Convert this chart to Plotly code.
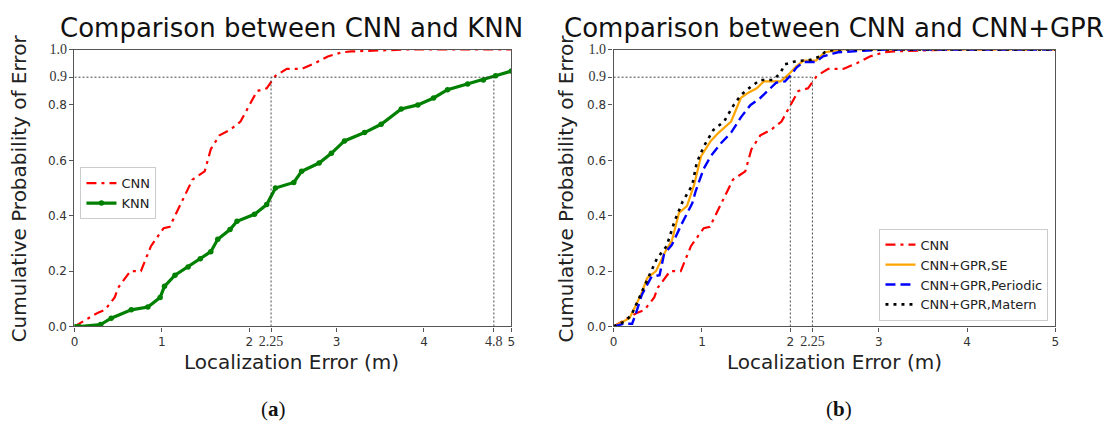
import plotly.graph_objects as go

# ---------------- data ----------------
cnn_x = [0, 0.05, 0.16, 0.27, 0.35, 0.46, 0.5, 0.64, 0.76, 0.875, 1.02, 1.09, 1.18, 1.33,
         1.35, 1.49, 1.56, 1.66, 1.78, 1.9, 2.0, 2.09, 2.2, 2.3, 2.43, 2.6, 2.75, 2.9, 3.06,
         3.17, 3.8, 5.0]
cnn_y = [0, 0.01, 0.03, 0.05, 0.06, 0.105, 0.14, 0.2, 0.2, 0.29, 0.355, 0.36, 0.42, 0.52,
         0.53, 0.56, 0.64, 0.69, 0.71, 0.74, 0.80, 0.85, 0.86, 0.905, 0.93, 0.93, 0.95, 0.975, 0.99,
         0.993, 1.0, 1.0]

knn_x = [0, 0.05, 0.3, 0.42, 0.65, 0.84, 0.98, 1.03, 1.15, 1.3, 1.44, 1.56, 1.64, 1.78, 1.86,
         2.06, 2.2, 2.3, 2.51, 2.6, 2.8, 2.94, 3.09, 3.32, 3.51, 3.74, 3.93, 4.11, 4.27, 4.5,
         4.68, 4.82, 5.0]
knn_y = [0, 0, 0.007, 0.03, 0.06, 0.07, 0.105, 0.145, 0.185, 0.215, 0.245, 0.27, 0.315, 0.35, 0.38,
         0.405, 0.44, 0.5, 0.52, 0.56, 0.59, 0.625, 0.67, 0.70, 0.73, 0.785, 0.80, 0.825, 0.855, 0.875,
         0.89, 0.905, 0.922]

se_x = [0, 0.18, 0.31, 0.38, 0.48, 0.6, 0.66, 0.74, 0.83, 0.91, 0.99, 1.1, 1.19, 1.33, 1.44,
        1.53, 1.62, 1.7, 1.89, 1.98, 2.07, 2.15, 2.29, 2.39, 2.6, 5.0]
se_y = [0, 0.03, 0.115, 0.175, 0.2, 0.28, 0.31, 0.41, 0.435, 0.51, 0.615, 0.67, 0.70, 0.74, 0.825,
        0.845, 0.86, 0.885, 0.885, 0.91, 0.94, 0.96, 0.96, 0.99, 1.0, 1.0]

per_x = [0, 0.12, 0.21, 0.25, 0.32, 0.43, 0.52, 0.57, 0.66, 0.77, 0.89, 0.93, 1.02, 1.1, 1.21,
         1.33, 1.44, 1.55, 1.66, 1.78, 1.84, 1.94, 2.0, 2.07, 2.15, 2.29, 2.37, 2.48, 2.54, 3.07, 5.0]
per_y = [0, 0.01, 0.01, 0.045, 0.115, 0.18, 0.185, 0.26, 0.295, 0.37, 0.445, 0.49, 0.57, 0.615, 0.66,
         0.70, 0.755, 0.80, 0.825, 0.86, 0.88, 0.885, 0.905, 0.935, 0.955, 0.955, 0.975, 0.985, 0.99, 1.0, 1.0]

mat_x = [0, 0.12, 0.2, 0.29, 0.35, 0.44, 0.49, 0.6, 0.69, 0.78, 0.89, 0.94, 1.02, 1.13, 1.25,
         1.36, 1.44, 1.55, 1.66, 1.81, 1.89, 1.94, 2.07, 2.22, 2.34, 2.39, 2.5, 5.0]
mat_y = [0, 0.017, 0.04, 0.105, 0.15, 0.21, 0.245, 0.29, 0.38, 0.45, 0.51, 0.59, 0.65, 0.71, 0.74,
         0.80, 0.835, 0.865, 0.89, 0.89, 0.917, 0.947, 0.958, 0.962, 0.975, 0.99, 1.0, 1.0]

threshold = 0.9
left_marks = [2.25, 4.8]
right_marks = [2.0, 2.25]

y_ticks = [0, 0.2, 0.4, 0.6, 0.8, 0.9, 1.0]
y_labels = ["0.0", "0.2", "0.4", "0.6", "0.8", "0.9", "1.0"]
x_ticks_left = [0, 1, 2, 2.25, 3, 4, 4.8, 5]
x_labels_left = ["0", "1", "2", "2.25", "3", "4", "4.8", "5"]
x_ticks_right = [0, 1, 2, 2.25, 3, 4, 5]
x_labels_right = ["0", "1", "2", "2.25", "3", "4", "5"]

SERIF = {"0.9", "1.0", "2.25", "4.8"}


def styl(labels):
    return ['<span style="font-family:Liberation Serif;font-size:14px">%s</span>' % t
            if t in SERIF else t for t in labels]


W, H = 1116, 430
fig = go.Figure()

# ---------------- left panel ----------------
fig.add_trace(go.Scatter(x=cnn_x, y=cnn_y, mode="lines", name="CNN",
                         line=dict(color="red", width=2.2, dash="10px,5px,3px,5px"),
                         xaxis="x", yaxis="y", legend="legend"))
fig.add_trace(go.Scatter(x=knn_x, y=knn_y, mode="lines+markers", name="KNN",
                         line=dict(color="green", width=3.2),
                         marker=dict(color="green", size=5.5),
                         xaxis="x", yaxis="y", legend="legend"))
ref_style = dict(color="#333", width=0.9, dash="2px,2px")
fig.add_trace(go.Scatter(x=[0, left_marks[-1]], y=[threshold, threshold], mode="lines",
                         line=ref_style, showlegend=False, xaxis="x", yaxis="y", hoverinfo="skip"))
for m in left_marks:
    fig.add_trace(go.Scatter(x=[m, m], y=[0, threshold], mode="lines", line=ref_style,
                             showlegend=False, xaxis="x", yaxis="y", hoverinfo="skip"))

# ---------------- right panel ----------------
fig.add_trace(go.Scatter(x=cnn_x, y=cnn_y, mode="lines", name="CNN",
                         line=dict(color="red", width=2.2, dash="10px,5px,3px,5px"),
                         xaxis="x2", yaxis="y2", legend="legend2"))
fig.add_trace(go.Scatter(x=se_x, y=se_y, mode="lines", name="CNN+GPR,SE",
                         line=dict(color="orange", width=2.2),
                         xaxis="x2", yaxis="y2", legend="legend2"))
fig.add_trace(go.Scatter(x=per_x, y=per_y, mode="lines", name="CNN+GPR,Periodic",
                         line=dict(color="blue", width=2.4, dash="10px,5px"),
                         xaxis="x2", yaxis="y2", legend="legend2"))
fig.add_trace(go.Scatter(x=mat_x, y=mat_y, mode="lines", name="CNN+GPR,Matern",
                         line=dict(color="black", width=2.6, dash="3px,5px"),
                         xaxis="x2", yaxis="y2", legend="legend2"))
fig.add_trace(go.Scatter(x=[0, right_marks[-1]], y=[threshold, threshold], mode="lines",
                         line=ref_style, showlegend=False, xaxis="x2", yaxis="y2", hoverinfo="skip"))
for m in right_marks:
    fig.add_trace(go.Scatter(x=[m, m], y=[0, threshold], mode="lines", line=ref_style,
                             showlegend=False, xaxis="x2", yaxis="y2", hoverinfo="skip"))

# ---------------- axes ----------------
ydom = [(H - 330) / H, (H - 43) / H]
axis_common = dict(showgrid=False, zeroline=False, showline=True, mirror=True,
                   linecolor="#555", linewidth=1.2, ticks="outside", ticklen=4,
                   tickcolor="#555", tickfont=dict(size=12, color="#333", family="DejaVu Sans"))

fig.update_layout(
    width=W, height=H,
    margin=dict(l=0, r=0, t=0, b=0),
    paper_bgcolor="white", plot_bgcolor="white",
    font=dict(family="DejaVu Sans", color="#222"),
    xaxis=dict(domain=[71 / W, 511 / W], range=[0, 5], anchor="y",
               tickvals=x_ticks_left, ticktext=styl(x_labels_left), **axis_common),
    yaxis=dict(domain=ydom, range=[0, 1], anchor="x",
               tickvals=y_ticks, ticktext=styl(y_labels), **axis_common),
    xaxis2=dict(domain=[614 / W, 1059 / W], range=[0, 5], anchor="y2",
                tickvals=x_ticks_right, ticktext=styl(x_labels_right), **axis_common),
    yaxis2=dict(domain=ydom, range=[0, 1], anchor="x2",
                tickvals=y_ticks, ticktext=styl(y_labels), **axis_common),
    legend=dict(x=77 / W, y=1 - 165 / H, xanchor="left", yanchor="top",
                bgcolor="white", bordercolor="#ccc", borderwidth=1,
                font=dict(size=13, family="DejaVu Sans", color="#222")),
    legend2=dict(x=1052 / W, y=(H - 324) / H, xanchor="right", yanchor="bottom",
                 bgcolor="white", bordercolor="#ccc", borderwidth=1,
                 font=dict(size=13, family="DejaVu Sans", color="#222")),
    showlegend=True,
)

ann = []
title_font = dict(size=26, family="DejaVu Sans", color="#111")
ann.append(dict(text="Comparison between CNN and KNN", x=290 / W, y=1 - 21 / H,
                xref="paper", yref="paper", showarrow=False, font=title_font,
                xanchor="center", yanchor="middle"))
ann.append(dict(text="Comparison between CNN and CNN+GPR", x=836 / W, y=1 - 21 / H,
                xref="paper", yref="paper", showarrow=False, font=title_font,
                xanchor="center", yanchor="middle"))
lab_font = dict(size=20, family="DejaVu Sans", color="#222")
for cx in (290, 836):
    ann.append(dict(text="Localization Error (m)", x=cx / W, y=1 - 367 / H,
                    xref="paper", yref="paper", showarrow=False, font=lab_font,
                    xanchor="center", yanchor="middle"))
for cx in (16, 567):
    ann.append(dict(text="Cumulative Probability of Error", x=cx / W, y=1 - 187 / H,
                    xref="paper", yref="paper", showarrow=False, font=lab_font,
                    textangle=-90, xanchor="center", yanchor="middle"))
cap_font = dict(size=21, family="Liberation Serif", color="#111")
ann.append(dict(text="(<b>a</b>)", x=271 / W, y=1 - 416 / H, xref="paper", yref="paper",
                showarrow=False, font=cap_font, xanchor="center", yanchor="middle"))
ann.append(dict(text="(<b>b</b>)", x=841 / W, y=1 - 416 / H, xref="paper", yref="paper",
                showarrow=False, font=cap_font, xanchor="center", yanchor="middle"))
fig.update_layout(annotations=ann)

fig.write_html("out.html")
